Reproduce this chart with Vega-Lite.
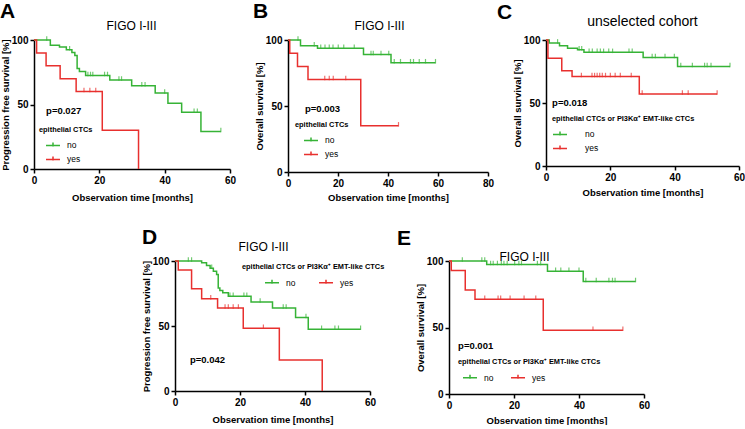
{
  "$schema": "https://vega.github.io/schema/vega-lite/v6.json",
  "padding": {"left": 0, "top": 1, "right": 0, "bottom": 0},
  "background": "white",
  "datasets": {
    "A": [
      {"g":"no","t":0,"s":100,"c":0},{"g":"no","t":3.9,"s":100,"c":1},{"g":"no","t":5,"s":96,"c":0},{"g":"no","t":7.8,"s":94.5,"c":0},{"g":"no","t":9.9,"s":92.5,"c":0},{"g":"no","t":10.9,"s":92.5,"c":1},{"g":"no","t":11.6,"s":90.4,"c":0},{"g":"no","t":12.5,"s":88,"c":0},{"g":"no","t":13.2,"s":78,"c":0},{"g":"no","t":13.9,"s":75.5,"c":0},{"g":"no","t":15.8,"s":72.5,"c":0},{"g":"no","t":16.5,"s":72.5,"c":1},{"g":"no","t":17.3,"s":72.5,"c":1},{"g":"no","t":18,"s":72.5,"c":1},{"g":"no","t":21.6,"s":72.5,"c":1},{"g":"no","t":22.5,"s":72.5,"c":1},{"g":"no","t":23.2,"s":69,"c":0},{"g":"no","t":26,"s":69,"c":1},{"g":"no","t":26.8,"s":69,"c":1},{"g":"no","t":29.9,"s":64.5,"c":0},{"g":"no","t":33,"s":64.5,"c":1},{"g":"no","t":34,"s":64.5,"c":1},{"g":"no","t":37.1,"s":59,"c":0},{"g":"no","t":40,"s":59,"c":1},{"g":"no","t":41,"s":51,"c":0},{"g":"no","t":45.2,"s":44,"c":0},{"g":"no","t":49,"s":44,"c":1},{"g":"no","t":50,"s":44,"c":1},{"g":"no","t":51.1,"s":29,"c":0},{"g":"no","t":57.2,"s":29,"c":1},
      {"g":"yes","t":0,"s":100,"c":0},{"g":"yes","t":0.8,"s":90,"c":0},{"g":"yes","t":3.7,"s":80,"c":0},{"g":"yes","t":8,"s":70,"c":0},{"g":"yes","t":12.9,"s":60,"c":0},{"g":"yes","t":15.3,"s":60,"c":1},{"g":"yes","t":17.1,"s":60,"c":1},{"g":"yes","t":18.9,"s":60,"c":1},{"g":"yes","t":20.9,"s":30,"c":0},{"g":"yes","t":32,"s":0,"c":0}
    ],
    "B": [
      {"g":"no","t":0,"s":100,"c":0},{"g":"no","t":4,"s":100,"c":1},{"g":"no","t":5,"s":95.7,"c":0},{"g":"no","t":10.5,"s":95.7,"c":1},{"g":"no","t":11.8,"s":93.7,"c":0},{"g":"no","t":13.1,"s":93.7,"c":1},{"g":"no","t":14.8,"s":93.7,"c":1},{"g":"no","t":16.5,"s":93.7,"c":1},{"g":"no","t":18,"s":93.7,"c":1},{"g":"no","t":20.1,"s":93.7,"c":1},{"g":"no","t":22.3,"s":93.7,"c":1},{"g":"no","t":26.5,"s":93.7,"c":1},{"g":"no","t":30.2,"s":89,"c":0},{"g":"no","t":33.2,"s":89,"c":1},{"g":"no","t":34.1,"s":89,"c":1},{"g":"no","t":37.2,"s":89,"c":1},{"g":"no","t":40.3,"s":89,"c":1},{"g":"no","t":41.2,"s":82.8,"c":0},{"g":"no","t":42.5,"s":82.8,"c":1},{"g":"no","t":45,"s":82.8,"c":1},{"g":"no","t":49,"s":82.8,"c":1},{"g":"no","t":50.2,"s":82.8,"c":1},{"g":"no","t":52.5,"s":82.8,"c":1},{"g":"no","t":55,"s":82.8,"c":1},{"g":"no","t":59,"s":82.8,"c":1},
      {"g":"yes","t":0,"s":100,"c":0},{"g":"yes","t":0.7,"s":90,"c":0},{"g":"yes","t":3.8,"s":80,"c":0},{"g":"yes","t":8,"s":70,"c":0},{"g":"yes","t":14.7,"s":70,"c":1},{"g":"yes","t":16.5,"s":70,"c":1},{"g":"yes","t":18.1,"s":70,"c":1},{"g":"yes","t":23.1,"s":70,"c":1},{"g":"yes","t":29.1,"s":35,"c":0},{"g":"yes","t":44.2,"s":35,"c":1}
    ],
    "C": [
      {"g":"no","t":0,"s":100,"c":0},{"g":"no","t":1,"s":97.7,"c":0},{"g":"no","t":3.6,"s":97.7,"c":1},{"g":"no","t":4.2,"s":95.5,"c":0},{"g":"no","t":6.7,"s":93.5,"c":0},{"g":"no","t":9.8,"s":92.2,"c":0},{"g":"no","t":10.3,"s":92.2,"c":1},{"g":"no","t":11.1,"s":92.2,"c":1},{"g":"no","t":11.8,"s":90.2,"c":0},{"g":"no","t":13.4,"s":90.2,"c":1},{"g":"no","t":14.4,"s":90.2,"c":1},{"g":"no","t":15.9,"s":90.2,"c":1},{"g":"no","t":16.9,"s":90.2,"c":1},{"g":"no","t":17.9,"s":90.2,"c":1},{"g":"no","t":19.5,"s":90.2,"c":1},{"g":"no","t":20.7,"s":90.2,"c":1},{"g":"no","t":25.8,"s":90.2,"c":1},{"g":"no","t":26.8,"s":90.2,"c":1},{"g":"no","t":30.2,"s":86.1,"c":0},{"g":"no","t":33,"s":86.1,"c":1},{"g":"no","t":34,"s":86.1,"c":1},{"g":"no","t":37,"s":86.1,"c":1},{"g":"no","t":39.9,"s":86.1,"c":1},{"g":"no","t":40.9,"s":79,"c":0},{"g":"no","t":41.9,"s":79,"c":1},{"g":"no","t":45.5,"s":79,"c":1},{"g":"no","t":49.3,"s":79,"c":1},{"g":"no","t":50.1,"s":79,"c":1},{"g":"no","t":51.3,"s":79,"c":1},{"g":"no","t":57.2,"s":79,"c":1},
      {"g":"yes","t":0,"s":100,"c":0},{"g":"yes","t":0.6,"s":85.6,"c":0},{"g":"yes","t":4.9,"s":75.5,"c":0},{"g":"yes","t":8.1,"s":71,"c":0},{"g":"yes","t":11,"s":71,"c":1},{"g":"yes","t":14.3,"s":71,"c":1},{"g":"yes","t":15.1,"s":71,"c":1},{"g":"yes","t":15.9,"s":71,"c":1},{"g":"yes","t":16.7,"s":71,"c":1},{"g":"yes","t":17.5,"s":71,"c":1},{"g":"yes","t":18.5,"s":71,"c":1},{"g":"yes","t":20,"s":71,"c":1},{"g":"yes","t":21.5,"s":71,"c":1},{"g":"yes","t":23.1,"s":71,"c":1},{"g":"yes","t":26.5,"s":71,"c":1},{"g":"yes","t":29,"s":57.1,"c":0},{"g":"yes","t":29.9,"s":57.1,"c":1},{"g":"yes","t":42.4,"s":57.1,"c":1},{"g":"yes","t":44.2,"s":57.1,"c":1},{"g":"yes","t":53.2,"s":57.1,"c":1}
    ],
    "D": [
      {"g":"no","t":0,"s":100,"c":0},{"g":"no","t":4.1,"s":100,"c":1},{"g":"no","t":5.1,"s":100,"c":1},{"g":"no","t":8.2,"s":98.7,"c":0},{"g":"no","t":9.7,"s":96.6,"c":0},{"g":"no","t":10.8,"s":94.5,"c":0},{"g":"no","t":11.3,"s":94.5,"c":1},{"g":"no","t":11.8,"s":92.2,"c":0},{"g":"no","t":12.8,"s":89.7,"c":0},{"g":"no","t":13.3,"s":79.3,"c":0},{"g":"no","t":13.8,"s":77.3,"c":0},{"g":"no","t":14.7,"s":75.5,"c":0},{"g":"no","t":16.4,"s":72.9,"c":0},{"g":"no","t":16.9,"s":72.9,"c":1},{"g":"no","t":17.9,"s":72.9,"c":1},{"g":"no","t":21.2,"s":72.9,"c":1},{"g":"no","t":22.1,"s":72.9,"c":1},{"g":"no","t":23.4,"s":68.5,"c":0},{"g":"no","t":26.2,"s":68.5,"c":1},{"g":"no","t":30,"s":63.8,"c":0},{"g":"no","t":33.3,"s":63.8,"c":1},{"g":"no","t":34.2,"s":63.8,"c":1},{"g":"no","t":37.1,"s":56.6,"c":0},{"g":"no","t":40.3,"s":56.6,"c":1},{"g":"no","t":41,"s":47.5,"c":0},{"g":"no","t":45.1,"s":47.5,"c":1},{"g":"no","t":49.2,"s":47.5,"c":1},{"g":"no","t":50.3,"s":47.5,"c":1},{"g":"no","t":57.1,"s":47.5,"c":1},
      {"g":"yes","t":0,"s":100,"c":0},{"g":"yes","t":1,"s":93,"c":0},{"g":"yes","t":5.1,"s":78.6,"c":0},{"g":"yes","t":8.2,"s":71,"c":0},{"g":"yes","t":11,"s":71,"c":1},{"g":"yes","t":13.1,"s":63.8,"c":0},{"g":"yes","t":15.4,"s":63.8,"c":1},{"g":"yes","t":16.4,"s":63.8,"c":1},{"g":"yes","t":17.9,"s":63.8,"c":1},{"g":"yes","t":19.5,"s":63.8,"c":1},{"g":"yes","t":21,"s":48.3,"c":0},{"g":"yes","t":27.2,"s":48.3,"c":1},{"g":"yes","t":32.1,"s":23.8,"c":0},{"g":"yes","t":45.3,"s":0,"c":0}
    ],
    "E": [
      {"g":"no","t":0,"s":100,"c":0},{"g":"no","t":4.1,"s":100,"c":1},{"g":"no","t":10.1,"s":100,"c":1},{"g":"no","t":11,"s":100,"c":1},{"g":"no","t":11.6,"s":97.4,"c":0},{"g":"no","t":12.8,"s":97.4,"c":1},{"g":"no","t":13.6,"s":97.4,"c":1},{"g":"no","t":14.9,"s":97.4,"c":1},{"g":"no","t":16.1,"s":97.4,"c":1},{"g":"no","t":16.9,"s":97.4,"c":1},{"g":"no","t":17.9,"s":97.4,"c":1},{"g":"no","t":20.2,"s":97.4,"c":1},{"g":"no","t":21.5,"s":97.4,"c":1},{"g":"no","t":22.3,"s":97.4,"c":1},{"g":"no","t":27.2,"s":97.4,"c":1},{"g":"no","t":28.2,"s":97.4,"c":1},{"g":"no","t":30.3,"s":92.3,"c":0},{"g":"no","t":32.8,"s":92.3,"c":1},{"g":"no","t":34.4,"s":92.3,"c":1},{"g":"no","t":36.9,"s":92.3,"c":1},{"g":"no","t":40,"s":92.3,"c":1},{"g":"no","t":41.3,"s":84.6,"c":0},{"g":"no","t":42.1,"s":84.6,"c":1},{"g":"no","t":45.3,"s":84.6,"c":1},{"g":"no","t":49.2,"s":84.6,"c":1},{"g":"no","t":50.3,"s":84.6,"c":1},{"g":"no","t":51.1,"s":84.6,"c":1},{"g":"no","t":57.4,"s":84.6,"c":1},
      {"g":"yes","t":0,"s":100,"c":0},{"g":"yes","t":0.7,"s":92.8,"c":0},{"g":"yes","t":5,"s":78.2,"c":0},{"g":"yes","t":8,"s":71.3,"c":0},{"g":"yes","t":11,"s":71.3,"c":1},{"g":"yes","t":15.1,"s":71.3,"c":1},{"g":"yes","t":15.9,"s":71.3,"c":1},{"g":"yes","t":18.8,"s":71.3,"c":1},{"g":"yes","t":23.1,"s":71.3,"c":1},{"g":"yes","t":26.7,"s":71.3,"c":1},{"g":"yes","t":29,"s":48,"c":0},{"g":"yes","t":44.3,"s":48,"c":1},{"g":"yes","t":53.5,"s":48,"c":1}
    ]
  },
  "vconcat": [
    {
      "bounds": "flush",
      "spacing": 58,
      "resolve": {"legend": {"color": "independent"}},
      "hconcat": [
        {
          "width": 196, "height": 129,
          "data": {"name": "A"},
          "layer": [
            {"mark": {"type": "line", "interpolate": "step-after", "strokeWidth": 1.5},
             "encoding": {
               "x": {"field": "t", "type": "quantitative", "scale": {"domain": [0, 60], "nice": false}, "axis": {"orient": "bottom", "values": [0, 20, 40, 60], "title": "Observation time [months]", "titlePadding": 7}},
               "y": {"field": "s", "type": "quantitative", "scale": {"domain": [0, 100], "nice": false}, "axis": {"values": [0, 50, 100], "title": "Progression free survival [%]"}},
               "color": {"field": "g", "type": "nominal", "scale": {"domain": ["no", "yes"], "range": ["#36b336", "#e8302e"]}, "legend": {"title": "epithelial CTCs", "legendX": 5, "legendY": 86, "direction": "vertical", "symbolOffset": 6}}}},
            {"transform": [{"filter": "datum.c == 1"}],
             "mark": {"type": "tick", "orient": "vertical", "size": 4.5, "thickness": 1.2, "yOffset": -1.5},
             "encoding": {
               "x": {"field": "t", "type": "quantitative", "axis": {"orient": "top", "title": "FIGO I-III", "domain": false, "ticks": false, "labels": false, "titleFontSize": 12, "titleFontWeight": "normal", "titleX": 97, "titleY": -11, "titleAlign": "center", "titleBaseline": "alphabetic"}},
               "y": {"field": "s", "type": "quantitative"},
               "color": {"field": "g", "type": "nominal", "legend": null}}},
            {"data": {"values": [{"p": "p=0.027"}]},
             "mark": {"type": "text", "align": "left", "baseline": "middle", "fontSize": 9.5, "fontWeight": "bold", "color": "#000"},
             "encoding": {"x": {"datum": 3.7, "type": "quantitative", "axis": null}, "y": {"datum": 45, "type": "quantitative"}, "text": {"field": "p"}}},
            {"data": {"values": [{"L": "A"}]},
             "mark": {"type": "text", "align": "left", "baseline": "alphabetic", "fontSize": 21, "fontWeight": "bold", "color": "#000"},
             "encoding": {"x": {"datum": -10.4, "type": "quantitative", "axis": null}, "y": {"datum": 116.7, "type": "quantitative"}, "text": {"field": "L"}}}
          ],
          "resolve": {"axis": {"x": "independent"}}
        },
        {
          "width": 200, "height": 132,
          "data": {"name": "B"},
          "layer": [
            {"mark": {"type": "line", "interpolate": "step-after", "strokeWidth": 1.5},
             "encoding": {
               "x": {"field": "t", "type": "quantitative", "scale": {"domain": [0, 80], "nice": false}, "axis": {"orient": "bottom", "values": [0, 20, 40, 60, 80], "title": "Observation time [months]", "titlePadding": 4}},
               "y": {"field": "s", "type": "quantitative", "scale": {"domain": [0, 100], "nice": false}, "axis": {"values": [0, 50, 100], "title": "Overall survival [%]"}},
               "color": {"field": "g", "type": "nominal", "scale": {"domain": ["no", "yes"], "range": ["#36b336", "#e8302e"]}, "legend": {"title": "epithelial CTCs", "legendX": 7, "legendY": 81, "direction": "vertical", "symbolOffset": 8}}}},
            {"transform": [{"filter": "datum.c == 1"}],
             "mark": {"type": "tick", "orient": "vertical", "size": 4.5, "thickness": 1.2, "yOffset": -1.5},
             "encoding": {
               "x": {"field": "t", "type": "quantitative", "axis": {"orient": "top", "title": "FIGO I-III", "domain": false, "ticks": false, "labels": false, "titleFontSize": 12, "titleFontWeight": "normal", "titleX": 91, "titleY": -11, "titleAlign": "center", "titleBaseline": "alphabetic"}},
               "y": {"field": "s", "type": "quantitative"},
               "color": {"field": "g", "type": "nominal", "legend": null}}},
            {"data": {"values": [{"p": "p=0.003"}]},
             "mark": {"type": "text", "align": "left", "baseline": "middle", "fontSize": 9.5, "fontWeight": "bold", "color": "#000"},
             "encoding": {"x": {"datum": 6.8, "type": "quantitative", "axis": null}, "y": {"datum": 47.5, "type": "quantitative"}, "text": {"field": "p"}}},
            {"data": {"values": [{"L": "B"}]},
             "mark": {"type": "text", "align": "left", "baseline": "alphabetic", "fontSize": 21, "fontWeight": "bold", "color": "#000"},
             "encoding": {"x": {"datum": -14, "type": "quantitative", "axis": null}, "y": {"datum": 116.4, "type": "quantitative"}, "text": {"field": "L"}}}
          ],
          "resolve": {"axis": {"x": "independent"}}
        },
        {
          "width": 193, "height": 126,
          "data": {"name": "C"},
          "layer": [
            {"mark": {"type": "line", "interpolate": "step-after", "strokeWidth": 1.5},
             "encoding": {
               "x": {"field": "t", "type": "quantitative", "scale": {"domain": [0, 60], "nice": false}, "axis": {"orient": "bottom", "values": [0, 20, 40, 60], "title": "Observation time [months]", "titlePadding": 5}},
               "y": {"field": "s", "type": "quantitative", "scale": {"domain": [0, 100], "nice": false}, "axis": {"values": [0, 50, 100], "title": "Overall survival [%]"}},
               "color": {"field": "g", "type": "nominal", "scale": {"domain": ["no", "yes"], "range": ["#36b336", "#e8302e"]}, "legend": {"title": "epithelial CTCs or PI3Kα⁺ EMT-like CTCs", "legendX": 6, "legendY": 75, "direction": "vertical", "symbolOffset": 0, "labelOffset": 17}}}},
            {"transform": [{"filter": "datum.c == 1"}],
             "mark": {"type": "tick", "orient": "vertical", "size": 4.5, "thickness": 1.2, "yOffset": -1.5},
             "encoding": {
               "x": {"field": "t", "type": "quantitative", "axis": {"orient": "top", "title": "unselected cohort", "domain": false, "ticks": false, "labels": false, "titleFontSize": 14, "titleFontWeight": "normal", "titleX": 96, "titleY": -15, "titleAlign": "center", "titleBaseline": "alphabetic"}},
               "y": {"field": "s", "type": "quantitative"},
               "color": {"field": "g", "type": "nominal", "legend": null}}},
            {"data": {"values": [{"p": "p=0.018"}]},
             "mark": {"type": "text", "align": "left", "baseline": "middle", "fontSize": 9.5, "fontWeight": "bold", "color": "#000"},
             "encoding": {"x": {"datum": 1.9, "type": "quantitative", "axis": null}, "y": {"datum": 50, "type": "quantitative"}, "text": {"field": "p"}}},
            {"data": {"values": [{"L": "C"}]},
             "mark": {"type": "text", "align": "left", "baseline": "alphabetic", "fontSize": 21, "fontWeight": "bold", "color": "#000"},
             "encoding": {"x": {"datum": -15.2, "type": "quantitative", "axis": null}, "y": {"datum": 116.8, "type": "quantitative"}, "text": {"field": "L"}}}
          ],
          "resolve": {"axis": {"x": "independent"}}
        }
      ]
    },
    {
      "bounds": "flush",
      "spacing": 79,
      "resolve": {"legend": {"color": "independent"}},
      "hconcat": [
        {"width": 62, "height": 10, "data": {"values": [{}]}, "mark": {"type": "point", "opacity": 0}},
        {
          "width": 195, "height": 130,
          "data": {"name": "D"},
          "layer": [
            {"mark": {"type": "line", "interpolate": "step-after", "strokeWidth": 1.5},
             "encoding": {
               "x": {"field": "t", "type": "quantitative", "scale": {"domain": [0, 60], "nice": false}, "axis": {"orient": "bottom", "values": [0, 20, 40, 60], "title": "Observation time [months]", "titlePadding": 7}},
               "y": {"field": "s", "type": "quantitative", "scale": {"domain": [0, 100], "nice": false}, "axis": {"values": [0, 50, 100], "title": "Progression free survival [%]"}},
               "color": {"field": "g", "type": "nominal", "scale": {"domain": ["no", "yes"], "range": ["#36b336", "#e8302e"]}, "legend": {"title": "epithelial CTCs or PI3Kα⁺ EMT-like CTCs", "legendX": 67, "legendY": 2, "direction": "horizontal", "symbolOffset": 22, "columnPadding": 0}}}},
            {"transform": [{"filter": "datum.c == 1"}],
             "mark": {"type": "tick", "orient": "vertical", "size": 4.5, "thickness": 1.2, "yOffset": -1.5},
             "encoding": {
               "x": {"field": "t", "type": "quantitative", "axis": {"orient": "top", "title": "FIGO I-III", "domain": false, "ticks": false, "labels": false, "titleFontSize": 12, "titleFontWeight": "normal", "titleX": 88, "titleY": -11, "titleAlign": "center", "titleBaseline": "alphabetic"}},
               "y": {"field": "s", "type": "quantitative"},
               "color": {"field": "g", "type": "nominal", "legend": null}}},
            {"data": {"values": [{"p": "p=0.042"}]},
             "mark": {"type": "text", "align": "left", "baseline": "middle", "fontSize": 9.5, "fontWeight": "bold", "color": "#000"},
             "encoding": {"x": {"datum": 4.6, "type": "quantitative", "axis": null}, "y": {"datum": 23.6, "type": "quantitative"}, "text": {"field": "p"}}}
          ],
          "resolve": {"axis": {"x": "independent"}}
        },
        {
          "width": 195, "height": 133,
          "data": {"name": "E"},
          "layer": [
            {"mark": {"type": "line", "interpolate": "step-after", "strokeWidth": 1.5},
             "encoding": {
               "x": {"field": "t", "type": "quantitative", "scale": {"domain": [0, 60], "nice": false}, "axis": {"orient": "bottom", "values": [0, 20, 40, 60], "title": "Observation time [months]", "titlePadding": 5}},
               "y": {"field": "s", "type": "quantitative", "scale": {"domain": [0, 100], "nice": false}, "axis": {"values": [0, 50, 100], "title": "Overall survival [%]"}},
               "color": {"field": "g", "type": "nominal", "scale": {"domain": ["no", "yes"], "range": ["#36b336", "#e8302e"]}, "legend": {"title": "epithelial CTCs or PI3Kα⁺ EMT-like CTCs", "legendX": 9, "legendY": 97, "direction": "horizontal", "symbolOffset": 4, "columnPadding": 12}}}},
            {"transform": [{"filter": "datum.c == 1"}],
             "mark": {"type": "tick", "orient": "vertical", "size": 4.5, "thickness": 1.2, "yOffset": -1.5},
             "encoding": {
               "x": {"field": "t", "type": "quantitative", "axis": {"orient": "top", "title": "FIGO I-III", "domain": false, "ticks": false, "labels": false, "titleFontSize": 12, "titleFontWeight": "normal", "titleX": 75, "titleY": -1, "titleAlign": "center", "titleBaseline": "alphabetic"}},
               "y": {"field": "s", "type": "quantitative"},
               "color": {"field": "g", "type": "nominal", "legend": null}}},
            {"data": {"values": [{"p": "p=0.001"}]},
             "mark": {"type": "text", "align": "left", "baseline": "middle", "fontSize": 9.5, "fontWeight": "bold", "color": "#000"},
             "encoding": {"x": {"datum": 2.8, "type": "quantitative", "axis": null}, "y": {"datum": 35.8, "type": "quantitative"}, "text": {"field": "p"}}},
            {"data": {"values": [{"L": "E", "u": -16, "v": 112}, {"L": "D", "u": -94.5, "v": 112.8}]},
             "mark": {"type": "text", "align": "left", "baseline": "alphabetic", "fontSize": 21, "fontWeight": "bold", "color": "#000"},
             "encoding": {"x": {"field": "u", "type": "quantitative", "axis": null}, "y": {"field": "v", "type": "quantitative"}, "text": {"field": "L"}}}
          ],
          "resolve": {"axis": {"x": "independent"}}
        }
      ]
    }
  ],
  "spacing": 24,
  "resolve": {"legend": {"color": "independent"}},
  "config": {
    "font": "Liberation Sans",
    "view": {"stroke": null},
    "axis": {"domainColor": "#000", "domainWidth": 1.5, "tickColor": "#000", "tickWidth": 1.5, "tickSize": 4, "labelFont": "Liberation Sans", "labelFontSize": 10, "labelFontWeight": "bold", "labelColor": "#000", "labelPadding": 2, "titleFont": "Liberation Sans", "titleFontSize": 9.5, "titleFontWeight": "bold", "titleColor": "#000", "grid": false, "labelFlush": false},
    "axisY": {"titlePadding": 1},
    "legend": {"orient": "none", "titleFont": "Liberation Sans", "titleFontSize": 7.4, "titleFontWeight": "bold", "titleColor": "#000", "labelFont": "Liberation Sans", "labelFontSize": 8.5, "labelColor": "#000", "symbolType": "M-1,0L1,0M0,0.15L0,-0.4", "symbolSize": 196, "symbolStrokeWidth": 1.5, "titlePadding": 4, "rowPadding": 1, "labelOffset": 6, "padding": 0}
  }
}
